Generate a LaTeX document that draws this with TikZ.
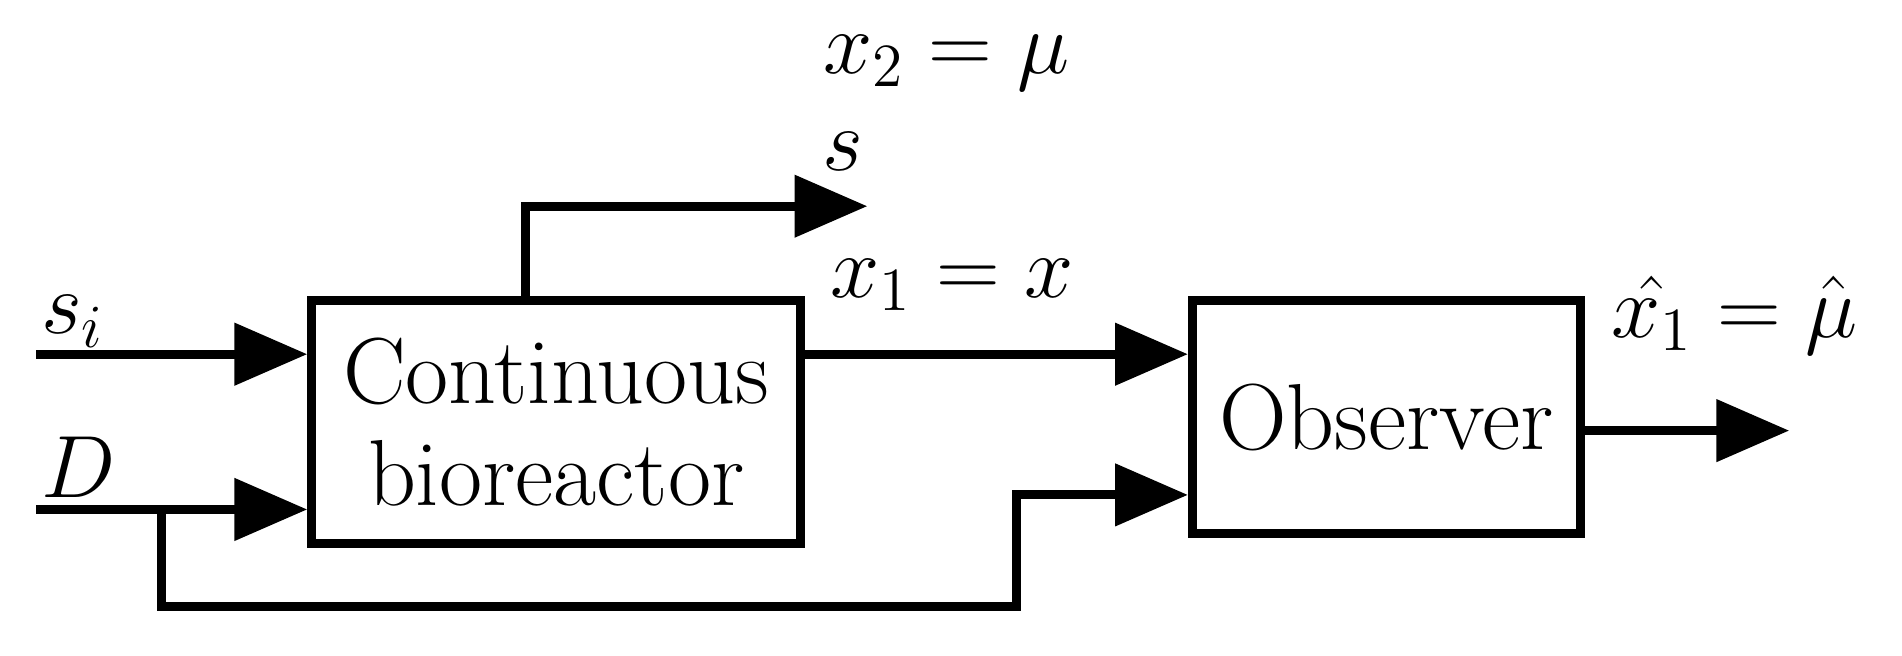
\documentclass[tikz,border=0pt]{standalone}
\usepackage{amsmath}
\usetikzlibrary{arrows.meta}
\begin{document}
\begin{tikzpicture}[line width=2.1pt, font=\fontsize{22}{27}\selectfont,
	blk/.style = {draw, rectangle, align=center, inner sep=2pt},
	sig/.style = {-{Triangle[length=0.6cm,width=0.5cm]}},
	lbl/.style = {inner sep=0pt}]
	\useasboundingbox (0,0) rectangle (15.68,5.40);
	\node[blk, minimum width=4.03cm, minimum height=2.0cm] (reactor) at (4.585,1.92) {Continuous\\[-3pt]bioreactor};
	\node[blk, minimum width=3.2cm, minimum height=1.92cm] (obs) at (11.43,1.96) {Observer};
	\coordinate (si) at (0.30,2.48);
	\coordinate (d) at (0.30,1.20);
	\coordinate (tap) at (1.33,1.20);
	\coordinate (sout) at (7.15,3.70);
	\coordinate (out) at (14.75,1.85);
	\draw[sig] (si) -- (si -| reactor.west);
	\draw[sig] (d) -- (d -| reactor.west);
	\draw[sig] (tap) -- (1.33,0.40) -- (8.38,0.40) -- (8.38,1.32) -- (obs.west |- 8.38,1.32);
	\draw[sig] (4.33,2.92) -- (4.33,3.70) -- (sout);
	\draw[sig] (reactor.east |- 0,2.48) -- (obs.west |- 0,2.48);
	\draw[sig] (obs.east |- out) -- (out);
	\node[lbl] (lsi) at (0.60,2.75) {$s_i$};
	\node[lbl] (ld) at (0.65,1.55) {$D$};
	\node[lbl] (ls) at (6.95,4.15) {$s$};
	\node[lbl] (lx2) at (7.80,4.88) {$x_2 = \mu$};
	\node[lbl] (lx1) at (7.85,3.05) {$x_1 = x$};
	\node[lbl] (lhat) at (14.30,2.80) {$\hat{x_1} = \hat{\mu}$};
\end{tikzpicture}
\end{document}
